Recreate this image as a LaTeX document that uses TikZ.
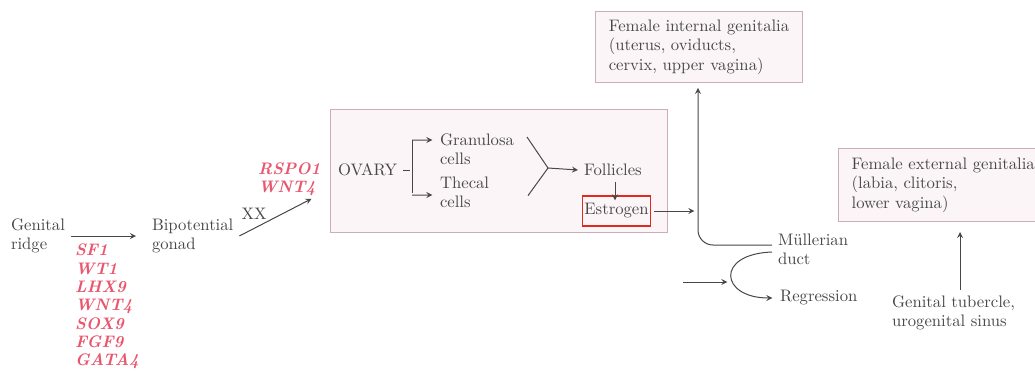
\documentclass[tikz,border=0pt]{standalone}
\usepackage{tikz}
\usetikzlibrary{positioning, arrows}
\definecolor{genered}{HTML}{E9566E}
\definecolor{boxline}{HTML}{CDAEB8}
\definecolor{boxfill}{HTML}{FCF5F7}
\definecolor{inkgray}{HTML}{474747}
\definecolor{hilite}{HTML}{E02A20}

\begin{document}
\begin{tikzpicture}[->,>=stealth,shorten >=1pt,x=0.6pt,y=-0.6pt,semithick,inkgray,
    every node/.style={text=inkgray,align=left,font=\fontsize{10}{11.6}\selectfont},
    gene/.style={text=genered,font=\fontsize{10}{11}\selectfont\bfseries\itshape},
    organ/.style={draw=boxline,fill=boxfill,thin,inner xsep=8pt,inner ysep=5pt}]
      \useasboundingbox (0,0) rectangle (1035,372);

      % left part
      \node[anchor=west] (ridge) at (5,236) {Genital\\ridge};
      \node[gene,anchor=north west] (genesA) at (69,238) {SF1\\WT1\\LHX9\\WNT4\\SOX9\\FGF9\\GATA4};
      \node[anchor=west] (bip) at (146,236) {Bipotential\\gonad};
      \node[gene,anchor=west] (genesB) at (252,179) {RSPO1\\WNT4};
      \coordinate (xxend) at (313,198);

      % ovary
      \node[organ,minimum width=202pt,minimum height=74pt] (ovarybox) at (498.5,170.5) {};
      \node[anchor=west] (ovary) at (332,170) {OVARY};
      \node[anchor=west] (gran) at (434,149) {Granulosa\\cells};
      \node[anchor=west] (thec) at (434,192) {Thecal\\cells};
      \node[anchor=west] (foll) at (578,170) {Follicles};
      \node[draw=hilite,thick,inner xsep=1pt,minimum width=40pt,minimum height=18pt] (estr) at (616.5,211) {Estrogen};
      \coordinate (split) at (412,170);
      \coordinate (gtop) at (527,137);
      \coordinate (gbot) at (527,197);
      \coordinate (merge) at (548,168);
      \coordinate (estrend) at (696,211);

      % right part
      \node[organ,minimum width=121pt,minimum height=42pt] (fint) at (699,47) {Female internal genitalia\\(uterus, oviducts,\\cervix, upper vagina)};
      \node[anchor=west] (mull) at (772,249) {M\"ullerian\\duct};
      \node[anchor=west] (regr) at (774,298) {Regression};
      \coordinate (inA) at (683,282);
      \coordinate (inB) at (729,282);
      \node[organ,anchor=west,minimum height=44pt] (fext) at (838,185) {Female external genitalia\\(labia, clitoris,\\lower vagina)};
      \node[anchor=west] (tub) at (886,313) {Genital tubercle,\\urogenital sinus};

      \path (ridge.east) edge [shorten >=6pt] (bip.west)
            (bip.east) edge node [pos=0.2,above=2pt] (xx) {XX} (xxend)
            (merge) edge [shorten >=0pt] (foll.west)
            (foll.south -| 615,0) edge [shorten >=-3pt] (estr.north -| 615,0)
            ([xshift=2pt]estr.east) edge (estrend)
            (inA) edge (inB)
            (tub.north -| 960,0) edge [shorten >=6pt] (fext.south -| 960,0);

      \draw[-] (ovary.east) -- (split);
      \draw[-] (split |- 0,140) -- (split |- 0,195);
      \draw (split |- 0,140) -- ([yshift=5.4pt]gran.west);
      \draw (split |- 0,195) -- ([yshift=-1.8pt]thec.west);
      \draw[-] (gtop) -- (merge) -- (gbot);
      \draw[rounded corners=9pt] ([yshift=2.4pt]mull.west) -| ([yshift=-2pt]fint.south -| 698,0);
      \draw ([yshift=-1.8pt]mull.west) .. controls (715,254) and (720,298) .. (regr.west);
    \end{tikzpicture}
\end{document}
